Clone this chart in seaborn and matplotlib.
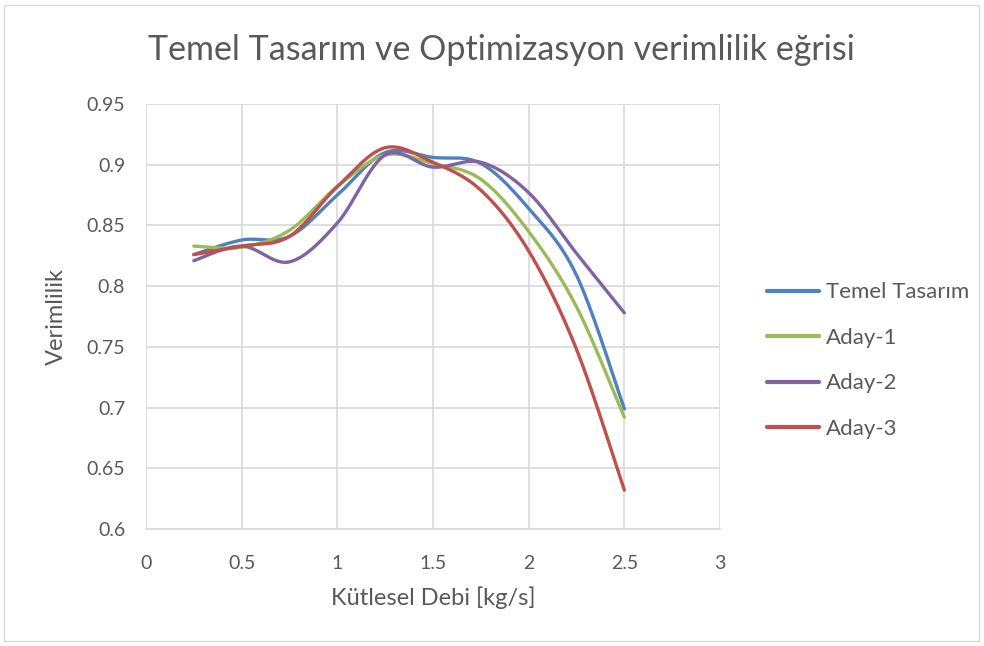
import numpy as np
import pandas as pd
import matplotlib
matplotlib.use("Agg")
import matplotlib.pyplot as plt
import seaborn as sns

# Mass flow rate [kg/s]
debi = [0.25, 0.5, 0.75, 1.0, 1.25, 1.5, 1.75, 2.0, 2.25, 2.5]

# Efficiency values per design
temel = [0.826, 0.838, 0.841, 0.875, 0.910, 0.906, 0.901, 0.864, 0.809, 0.699]
aday1 = [0.833, 0.832, 0.846, 0.882, 0.908, 0.901, 0.888, 0.845, 0.783, 0.692]
aday2 = [0.821, 0.833, 0.820, 0.852, 0.908, 0.898, 0.902, 0.877, 0.827, 0.778]
aday3 = [0.826, 0.833, 0.841, 0.882, 0.914, 0.902, 0.879, 0.829, 0.748, 0.632]

seri_adlari = ["Temel Tasarım", "Aday-1", "Aday-2", "Aday-3"]
renkler = ["#4F81BD", "#9BBB59", "#8064A2", "#C0504D"]

x_ticks = [0, 0.5, 1, 1.5, 2, 2.5, 3]
y_ticks = [0.6, 0.65, 0.7, 0.75, 0.8, 0.85, 0.9, 0.95]


def smooth(xs, ys, n=40):
    """Bezier smoothing through the points (Catmull-Rom style control points)."""
    p = np.column_stack([xs, ys]).astype(float)
    p = np.vstack([p[0], p, p[-1]])
    out = []
    t = np.linspace(0, 1, n)[:, None]
    for i in range(1, len(p) - 2):
        p0, p1, p2, p3 = p[i - 1], p[i], p[i + 1], p[i + 2]
        c1 = p1 + (p2 - p0) / 6.0
        c2 = p2 - (p3 - p1) / 6.0
        seg = ((1 - t) ** 3) * p1 + 3 * ((1 - t) ** 2) * t * c1 + 3 * (1 - t) * t ** 2 * c2 + t ** 3 * p2
        out.append(seg if i == 1 else seg[1:])
    s = np.vstack(out)
    return s[:, 0], s[:, 1]


rows = []
for ad, vals in zip(seri_adlari, [temel, aday1, aday2, aday3]):
    sx, sy = smooth(debi, vals)
    for a, b in zip(sx, sy):
        rows.append({"Debi": a, "Verim": b, "Seri": ad})
df = pd.DataFrame(rows)

sns.set_theme(style="white")
plt.rcParams["font.family"] = ["Lato", "DejaVu Sans"]
yazi = "#595959"

fig = plt.figure(figsize=(9.84, 6.46), dpi=100)
ax = fig.add_axes([146 / 984, 1 - 529 / 646, (720 - 146) / 984, (529 - 104) / 646])

sns.lineplot(data=df, x="Debi", y="Verim", hue="Seri", estimator=None, sort=False,
             palette=renkler, hue_order=seri_adlari, linewidth=2.4, ax=ax, legend=True)

ax.set_xlim(0, 3)
ax.set_ylim(0.6, 0.95)
ax.set_xticks(x_ticks)
ax.set_xticklabels([f"{v:g}" for v in x_ticks])
ax.set_yticks(y_ticks)
ax.set_yticklabels([f"{v:g}" for v in y_ticks])
ax.grid(True, color="#D9D9D9", linewidth=1.2)
ax.set_axisbelow(True)
for side in ["top", "right", "left"]:
    ax.spines[side].set_visible(False)
ax.spines["bottom"].set_color("#D9D9D9")
ax.spines["bottom"].set_linewidth(1.2)
ax.tick_params(axis="both", length=0, labelsize=14, colors=yazi)
ax.tick_params(axis="x", pad=19)
ax.tick_params(axis="y", pad=15)

ax.set_xlabel("Kütlesel Debi [kg/s]", fontsize=17, color=yazi, labelpad=10)
ax.set_ylabel("Verimlilik", fontsize=17, color=yazi, labelpad=14)
fig.text(501 / 984, 1 - 50 / 646, "Temel Tasarım ve Optimizasyon verimlilik eğrisi",
         ha="center", va="center", fontsize=24.5, color=yazi)

leg = ax.legend(loc="center left", bbox_to_anchor=(1.082, 0.396), frameon=False,
                fontsize=16, labelspacing=1.15, handlelength=2.35, handletextpad=0.3,
                borderpad=0, borderaxespad=0)
for t in leg.get_texts():
    t.set_color(yazi)
for h in leg.get_lines():
    h.set_linewidth(3)

# outer chart border
fig.patches.append(plt.Rectangle((4 / 984, 5 / 646), 975 / 984, 636 / 646,
                                 transform=fig.transFigure, fill=False,
                                 edgecolor="#D9D9D9", linewidth=1))

fig.savefig("out.png", dpi=100)
